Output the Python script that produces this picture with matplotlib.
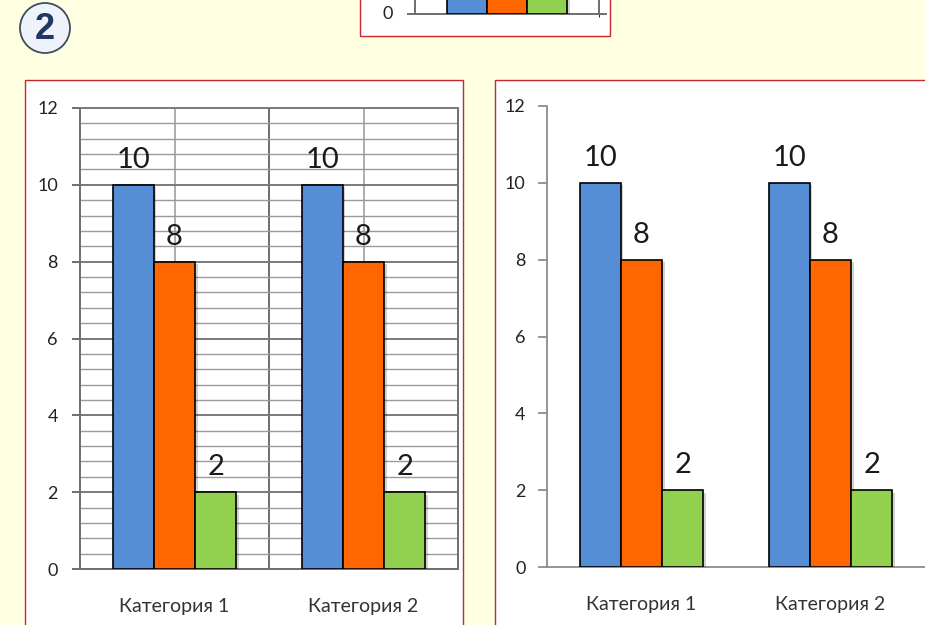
import matplotlib
matplotlib.use("Agg")
import matplotlib.pyplot as plt
from matplotlib.patches import Rectangle, Circle
from matplotlib.ticker import MultipleLocator, FixedLocator
import matplotlib.patheffects as pe

# ---- data ----
categories = ["Категория 1", "Категория 2"]
series1 = [10, 10]
series2 = [8, 8]
series3 = [2, 2]
y_ticks = [0, 2, 4, 6, 8, 10, 12]
badge_text = "2"

colors = ["#558ED5", "#FF6600", "#92D050"]
all_series = [series1, series2, series3]

W, H = 925, 625
BG = "#FFFFE1"
RED = "#C8262E"
LABEL_FONT = ["Lato", "Open Sans", "DejaVu Sans"]

fig = plt.figure(figsize=(W / 100, H / 100), dpi=100, facecolor=BG)


def fx(x):
    return x / W


def fy(y):
    return 1 - y / H


def box(x0, y_top, x1, y_bottom):
    r = Rectangle((fx(x0), fy(y_bottom)), fx(x1) - fx(x0), fy(y_top) - fy(y_bottom),
                  transform=fig.transFigure, facecolor="white", edgecolor=RED,
                  linewidth=1.0, zorder=-5)
    fig.add_artist(r)


def add_axes(x0, y_top, x1, y_bottom):
    return fig.add_axes([fx(x0), fy(y_bottom), fx(x1) - fx(x0), fy(y_top) - fy(y_bottom)])


width = 0.218
offsets = [-width, 0, width]
shadow = [pe.SimplePatchShadow(offset=(1.8, -1.8), shadow_rgbFace="k", alpha=0.18), pe.Normal()]


def draw_bars(ax, labels=True):
    xs = list(range(len(categories)))
    for s, c, off in zip(all_series, colors, offsets):
        bars = ax.bar([x + off for x in xs], s, width=width, color=c,
                      edgecolor="black", linewidth=1.2, zorder=3)
        for b in bars:
            b.set_path_effects(shadow)
        if labels:
            for x, v in zip(xs, s):
                ax.annotate(str(v), (x + off, v), xytext=(0, 8.5), textcoords="offset points",
                            ha="center", va="bottom", fontsize=21, color="#1a1a1a",
                            family=LABEL_FONT, zorder=5)


# ---- boxes ----
box(25, 80, 463, 640)
box(495, 80, 940, 640)
box(360, -20, 610, 36)

# ---- left chart (with gridlines) ----
axL = add_axes(80, 108, 458, 569)
axL.set_facecolor("white")
draw_bars(axL)
axL.set_xlim(-0.5, 1.5)
axL.set_ylim(0, 12)
axL.set_axisbelow(True)
axL.yaxis.set_major_locator(FixedLocator(y_ticks))
axL.yaxis.set_minor_locator(MultipleLocator(0.4))
axL.set_xticks(range(len(categories)))
axL.set_xticklabels(categories)
axL.xaxis.set_minor_locator(FixedLocator([0.5]))
axL.grid(True, which="major", axis="y", color="#7A7A7A", linewidth=1.4)
axL.grid(True, which="minor", axis="y", color="#9A9A9A", linewidth=1.0)
axL.grid(True, which="major", axis="x", color="#A0A0A0", linewidth=1.2)
axL.grid(True, which="minor", axis="x", color="#6E6E6E", linewidth=1.4)
for sp in ["left", "bottom", "right", "top"]:
    axL.spines[sp].set_color("#6E6E6E")
    axL.spines[sp].set_linewidth(1.4)
axL.spines["top"].set_color("#7A7A7A")
axL.tick_params(axis="y", which="major", direction="out", length=6, width=1.4,
                color="#6E6E6E", pad=10, labelsize=13, labelcolor="#222222")
axL.tick_params(axis="y", which="minor", length=0)
axL.tick_params(axis="x", which="both", length=0, pad=21, labelsize=14, labelcolor="#333333")
for t in axL.get_yticklabels() + axL.get_xticklabels():
    t.set_family(LABEL_FONT)

# ---- right chart (clean) ----
axR = add_axes(547, 106, 925, 567)
axR.set_facecolor("white")
draw_bars(axR)
axR.set_xlim(-0.5, 1.5)
axR.set_ylim(0, 12)
axR.yaxis.set_major_locator(FixedLocator(y_ticks))
axR.set_xticks(range(len(categories)))
axR.set_xticklabels(categories)
for sp in ["top", "right"]:
    axR.spines[sp].set_visible(False)
for sp in ["left", "bottom"]:
    axR.spines[sp].set_color("#8C8C8C")
    axR.spines[sp].set_linewidth(1.3)
axR.tick_params(axis="y", direction="out", length=6.5, width=1.3, color="#8C8C8C",
                pad=9, labelsize=13, labelcolor="#222222")
axR.tick_params(axis="x", length=0, pad=21, labelsize=14, labelcolor="#333333")
for t in axR.get_yticklabels() + axR.get_xticklabels():
    t.set_family(LABEL_FONT)

# ---- top partial chart ----
axT = add_axes(415, 0, 606, 14)
axT.set_facecolor("white")
draw_bars(axT, labels=False)
axT.set_xlim(-0.5, 0.5 + 7 / 184)
axT.set_ylim(0, 14 / 38.4)
axT.set_xticks([])
axT.yaxis.set_major_locator(FixedLocator([0]))
axT.xaxis.set_minor_locator(FixedLocator([0.5]))
axT.grid(True, which="minor", axis="x", color="#6E6E6E", linewidth=1.4)
axT.set_axisbelow(True)
for sp in ["top", "right"]:
    axT.spines[sp].set_visible(False)
for sp in ["left", "bottom"]:
    axT.spines[sp].set_color("#6E6E6E")
    axT.spines[sp].set_linewidth(1.4)
axT.tick_params(axis="y", direction="out", length=6, width=1.4, color="#6E6E6E",
                pad=10, labelsize=13, labelcolor="#222222")
for t in axT.get_yticklabels():
    t.set_family(LABEL_FONT)
    t.set_verticalalignment("center")

# ---- badge ----
badge_ax = fig.add_axes([0, 0, 1, 1], facecolor="none")
badge_ax.set_xlim(0, W)
badge_ax.set_ylim(H, 0)
badge_ax.set_axis_off()
badge_ax.add_patch(Circle((45, 28), 25, facecolor="#EEF3FB", edgecolor="#3F4D5E", linewidth=1.3))
badge_ax.text(45, 29.5, badge_text, ha="center", va="center", fontsize=26,
              fontweight="bold", color="#1F3864", family="Liberation Sans")

fig.savefig("out.png", dpi=100, facecolor=BG)
